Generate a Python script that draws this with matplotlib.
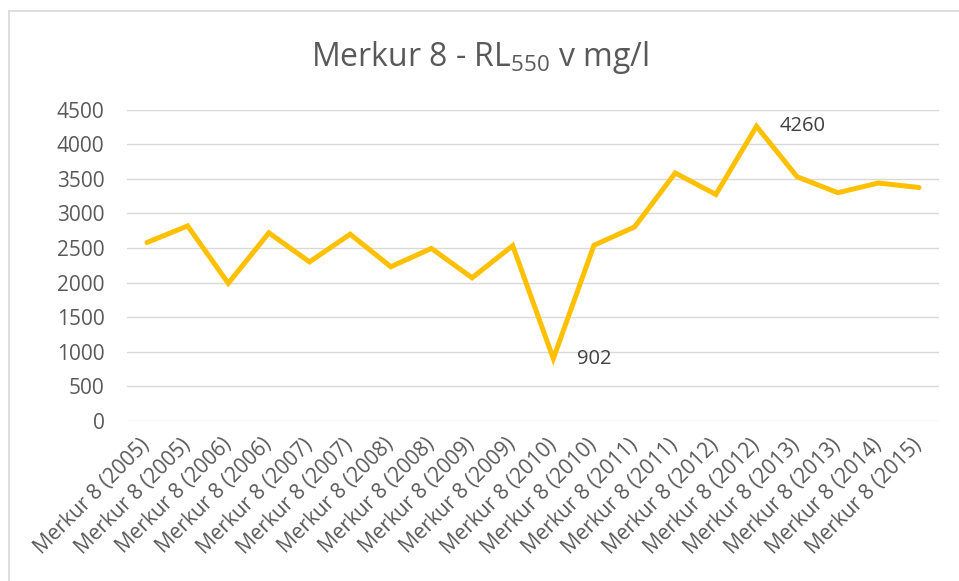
import matplotlib
matplotlib.use("Agg")
import matplotlib.pyplot as plt
from matplotlib.lines import Line2D

categories = ["Merkur 8 (2005)", "Merkur 8 (2005)", "Merkur 8 (2006)", "Merkur 8 (2006)",
              "Merkur 8 (2007)", "Merkur 8 (2007)", "Merkur 8 (2008)", "Merkur 8 (2008)",
              "Merkur 8 (2009)", "Merkur 8 (2009)", "Merkur 8 (2010)", "Merkur 8 (2010)",
              "Merkur 8 (2011)", "Merkur 8 (2011)", "Merkur 8 (2012)", "Merkur 8 (2012)",
              "Merkur 8 (2013)", "Merkur 8 (2013)", "Merkur 8 (2014)", "Merkur 8 (2015)"]
values = [2580, 2820, 1990, 2720, 2300, 2700, 2230, 2495, 2070, 2535,
          902, 2540, 2805, 3585, 3275, 4260, 3530, 3300, 3440, 3375]
yticks = [0, 500, 1000, 1500, 2000, 2500, 3000, 3500, 4000, 4500]
labelled = {10: "902", 15: "4260"}

plt.rcParams['font.family'] = ['Open Sans', 'DejaVu Sans']

fig = plt.figure(figsize=(9.59, 5.81), dpi=100)
ax = fig.add_axes([0.1321, 0.2754, 0.8474, 0.5358])

x = list(range(len(values)))
ax.plot(x, values, color='#FFC000', linewidth=3.6, solid_joinstyle='miter',
        solid_capstyle='round', zorder=3)

for i, txt in labelled.items():
    ax.annotate(txt, (x[i], values[i]), xytext=(17, 0), textcoords='offset points',
                ha='left', va='center', fontsize=14.5, color='#404040')

ax.set_xlim(-0.5, len(values) - 0.5)
ax.set_ylim(0, 4500)
ax.set_yticks(yticks)
ax.set_yticklabels([str(v) for v in yticks], fontsize=15, color='#595959')
ax.set_xticks(x)
ax.set_xticklabels(categories, rotation=45, ha='right', rotation_mode='anchor',
                   fontsize=15, color='#595959', va='center')
ax.tick_params(axis='both', length=0)
ax.tick_params(axis='x', pad=15)
ax.tick_params(axis='y', pad=16)
ax.grid(axis='y', color='#D9D9D9', linewidth=1.0)
ax.set_axisbelow(True)
for s in ax.spines.values():
    s.set_visible(False)

fig.text(0.5, 1 - 58 / 581, "Merkur 8 - RL$_{\\mathregular{550}}$ v mg/l", ha='center', va='center',
         fontsize=23, color='#595959')

# chart border (top and left visible)
fig.add_artist(Line2D([8.5 / 959, 1.0], [1 - 10.5 / 581, 1 - 10.5 / 581],
                      transform=fig.transFigure, color='#D9D9D9', linewidth=1.2))
fig.add_artist(Line2D([8.5 / 959, 8.5 / 959], [0.0, 1 - 10.5 / 581],
                      transform=fig.transFigure, color='#D9D9D9', linewidth=1.2))

fig.savefig("out.png", dpi=100)
